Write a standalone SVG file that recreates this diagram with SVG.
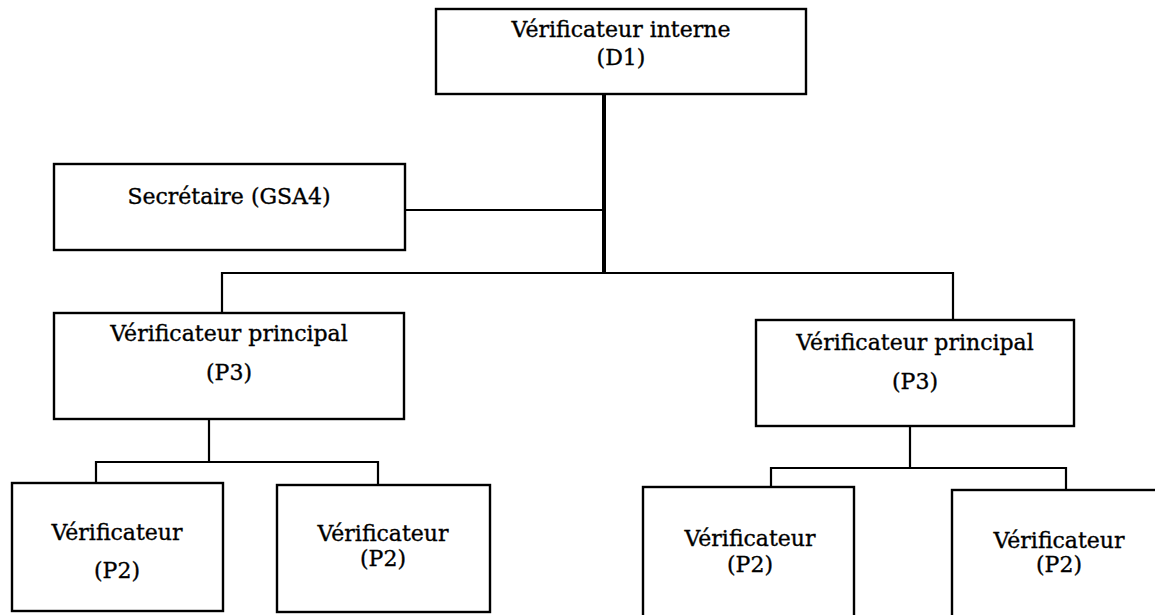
<svg xmlns="http://www.w3.org/2000/svg" width="1155" height="615" viewBox="0 0 1155 615">
<style>
.box{fill:#fff;stroke:#000;stroke-width:2.4}
.ln{fill:none;stroke:#000;stroke-width:2.2}
.thick{stroke-width:4}
text{font-family:"DejaVu Serif","Liberation Serif",serif;font-size:22px;fill:#000;stroke:#000;stroke-width:0.35;text-anchor:middle}
</style>
<rect width="1155" height="615" fill="#fff"/>
<g id="connectors">
<path class="ln thick" d="M604 94V274"/>
<path class="ln" d="M405 210H604"/>
<path class="ln" d="M222 313V273H953V320"/>
<path class="ln" d="M209 419V462"/>
<path class="ln" d="M96 483V462H378V485"/>
<path class="ln" d="M910 426V468"/>
<path class="ln" d="M771 487V468H1066V490"/>
</g>
<g id="n-d1">
<rect class="box" x="436" y="9" width="370" height="85"/>
<text x="621" y="37">Vérificateur interne</text>
<text x="621" y="65">(D1)</text>
</g>
<g id="n-sec">
<rect class="box" x="54" y="164" width="351" height="86"/>
<text x="229" y="204">Secrétaire (GSA4)</text>
</g>
<g id="n-p3-left">
<rect class="box" x="54" y="313" width="350" height="106"/>
<text x="229" y="341">Vérificateur principal</text>
<text x="229" y="380">(P3)</text>
</g>
<g id="n-p3-right">
<rect class="box" x="756" y="320" width="318" height="106"/>
<text x="915" y="350">Vérificateur principal</text>
<text x="915" y="389">(P3)</text>
</g>
<g id="n-p2-1">
<rect class="box" x="12" y="483" width="211" height="128"/>
<text x="117" y="540">Vérificateur</text>
<text x="117" y="578">(P2)</text>
</g>
<g id="n-p2-2">
<rect class="box" x="277" y="485" width="213" height="127"/>
<text x="383" y="541">Vérificateur</text>
<text x="383" y="566">(P2)</text>
</g>
<g id="n-p2-3">
<rect class="box" x="643" y="487" width="211" height="140"/>
<text x="750" y="546">Vérificateur</text>
<text x="750" y="572">(P2)</text>
</g>
<g id="n-p2-4">
<rect class="box" x="952" y="490" width="220" height="140"/>
<text x="1059" y="548">Vérificateur</text>
<text x="1059" y="572">(P2)</text>
</g>
</svg>
